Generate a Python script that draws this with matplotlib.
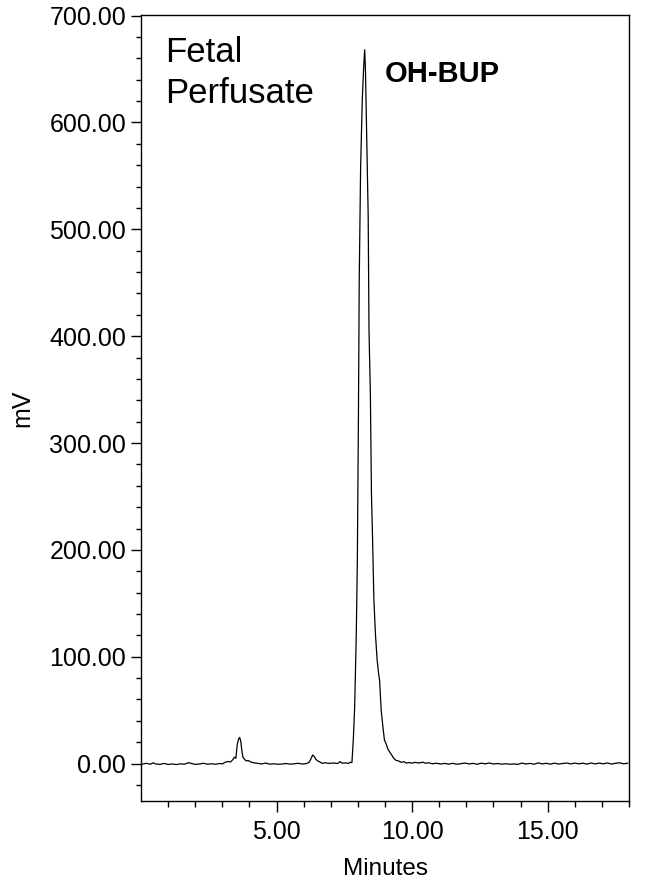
import matplotlib
matplotlib.use("Agg")
import matplotlib.pyplot as plt
from matplotlib.ticker import MultipleLocator, FixedLocator, FormatStrFormatter

plt.rcParams["font.family"] = ["Liberation Sans", "DejaVu Sans"]

# chromatogram trace (minutes, mV)
time_min = [
    0.05, 0.2, 0.35, 0.45, 0.55, 0.7, 0.85, 1.0, 1.15, 1.3, 1.45, 1.6, 1.75, 1.85,
    2.0, 2.15, 2.3, 2.45, 2.6, 2.75, 2.9, 3.0, 3.1, 3.2, 3.3, 3.38, 3.45, 3.5,
    3.55, 3.6, 3.64, 3.68, 3.72, 3.76, 3.82, 3.88, 3.95, 4.05, 4.15, 4.3, 4.45,
    4.6, 4.75, 4.9, 5.05, 5.2, 5.35, 5.5, 5.65, 5.8, 5.95, 6.1, 6.2, 6.27, 6.33,
    6.38, 6.45, 6.52, 6.6, 6.68, 6.8, 6.95, 7.1, 7.25, 7.35, 7.42, 7.55, 7.65,
    7.72, 7.78, 7.83, 7.88, 7.94, 7.98, 8.02, 8.05, 8.10, 8.16, 8.21, 8.25,
    8.28, 8.33, 8.38, 8.40, 8.41, 8.46, 8.50, 8.54, 8.59, 8.65, 8.71, 8.76,
    8.80, 8.86, 8.92, 8.98, 9.05, 9.10, 9.17, 9.25, 9.32, 9.41, 9.5, 9.6, 9.7,
    9.78, 9.9, 10.0, 10.1, 10.25, 10.4, 10.5, 10.6, 10.75, 10.9, 11.05, 11.2,
    11.35, 11.5, 11.65, 11.8, 11.95, 12.1, 12.25, 12.4, 12.55, 12.7, 12.85,
    13.0, 13.15, 13.3, 13.45, 13.6, 13.75, 13.9, 14.05, 14.2, 14.35, 14.5,
    14.65, 14.8, 14.95, 15.1, 15.25, 15.4, 15.55, 15.7, 15.85, 16.0, 16.15,
    16.3, 16.45, 16.6, 16.75, 16.9, 17.05, 17.2, 17.35, 17.5, 17.65, 17.8, 17.95,
]
signal_mv = [
    -0.5, 0.3, -0.6, 0.8, -0.4, -0.7, 0.2, -0.8, -0.3, -0.9, -0.2, -0.6, 0.9, 0.2,
    -0.7, -0.4, 0.3, -0.5, -0.2, -0.6, 0.1, -0.3, 1.2, 2.0, 1.5, 3.5, 6.0, 5.0,
    18.0, 23.0, 24.5, 21.0, 12.0, 6.0, 4.0, 2.5, 3.0, 1.5, 0.8, 0.2, -0.3,
    0.5, -0.5, -0.2, -0.6, -0.4, 0.1, -0.5, -0.2, 0.3, -0.4, 0.0, 1.2, 4.5, 8.0,
    7.0, 4.0, 2.5, 1.5, 0.3, 0.8, 0.2, 0.6, 0.1, 1.8, 0.4, 0.7, 0.2,
    1.2, 1.0, 22, 52, 120, 190, 325, 454, 557, 620, 650, 668,
    648, 578, 512, 442, 405, 347, 253, 212, 153, 120, 97, 85,
    78, 50, 35, 22, 18, 14, 11, 8, 5, 3, 2.5, 1.2, 1.8,
    0.5, 1.0, 0.4, 1.2, 0.6, 1.3, 0.3, 0.8, -0.2, 0.4, -0.4, 0.2,
    -0.5, 0.3, -0.6, -0.1, 0.5, -0.3, 0.2, -0.6, 0.4, -0.2, 0.6,
    -0.4, 0.1, -0.5, -0.1, -0.6, -0.3, -0.7, 0.5, -0.4, 0.2, -0.6,
    0.7, -0.3, 0.3, -0.5, 0.4, -0.4, 0.1, 0.6, -0.3, 0.5, -0.2,
    0.4, -0.5, 0.6, -0.3, 0.5, -0.2, 0.6, -0.4, 0.3, 0.8, -0.2, 0.4,
]

x_major = [5, 10, 15]
x_minor = [1, 2, 3, 4, 6, 7, 8, 9, 11, 12, 13, 14, 16, 17, 18]

fig = plt.figure(figsize=(6.45, 8.85), dpi=100)
ax = fig.add_axes([0.2186, 0.0949, 0.7566, 0.8881])

ax.plot(time_min, signal_mv, color="black", linewidth=0.9)

ax.set_xlim(0, 18)
ax.set_ylim(-35, 700.5)

ax.xaxis.set_major_locator(FixedLocator(x_major))
ax.xaxis.set_minor_locator(FixedLocator(x_minor))
ax.yaxis.set_major_locator(MultipleLocator(100))
ax.yaxis.set_minor_locator(MultipleLocator(20))
ax.xaxis.set_major_formatter(FormatStrFormatter("%.2f"))
ax.yaxis.set_major_formatter(FormatStrFormatter("%.2f"))

ax.tick_params(axis="both", which="major", direction="out", labelsize=18, width=1, color="black")
ax.tick_params(axis="x", which="major", length=8, pad=6)
ax.tick_params(axis="x", which="minor", length=4.3, width=1)
ax.tick_params(axis="y", which="major", length=7.2, pad=3.5)
ax.tick_params(axis="y", which="minor", length=3.6, width=1)

for s in ax.spines.values():
    s.set_linewidth(1.0)

ax.set_xlabel("Minutes", fontsize=17.5, labelpad=10)
ax.set_ylabel("mV", fontsize=18, labelpad=11)

# annotations
fig.text(165 / 645, 1 - 61.7 / 885, "Fetal", fontsize=25, va="baseline", ha="left")
fig.text(165 / 645, 1 - 103 / 885, "Perfusate", fontsize=25, va="baseline", ha="left")
fig.text(385 / 645, 1 - 81.7 / 885, "OH-BUP", fontsize=21, fontweight="bold", va="baseline", ha="left")

fig.savefig("out.png", dpi=100)
